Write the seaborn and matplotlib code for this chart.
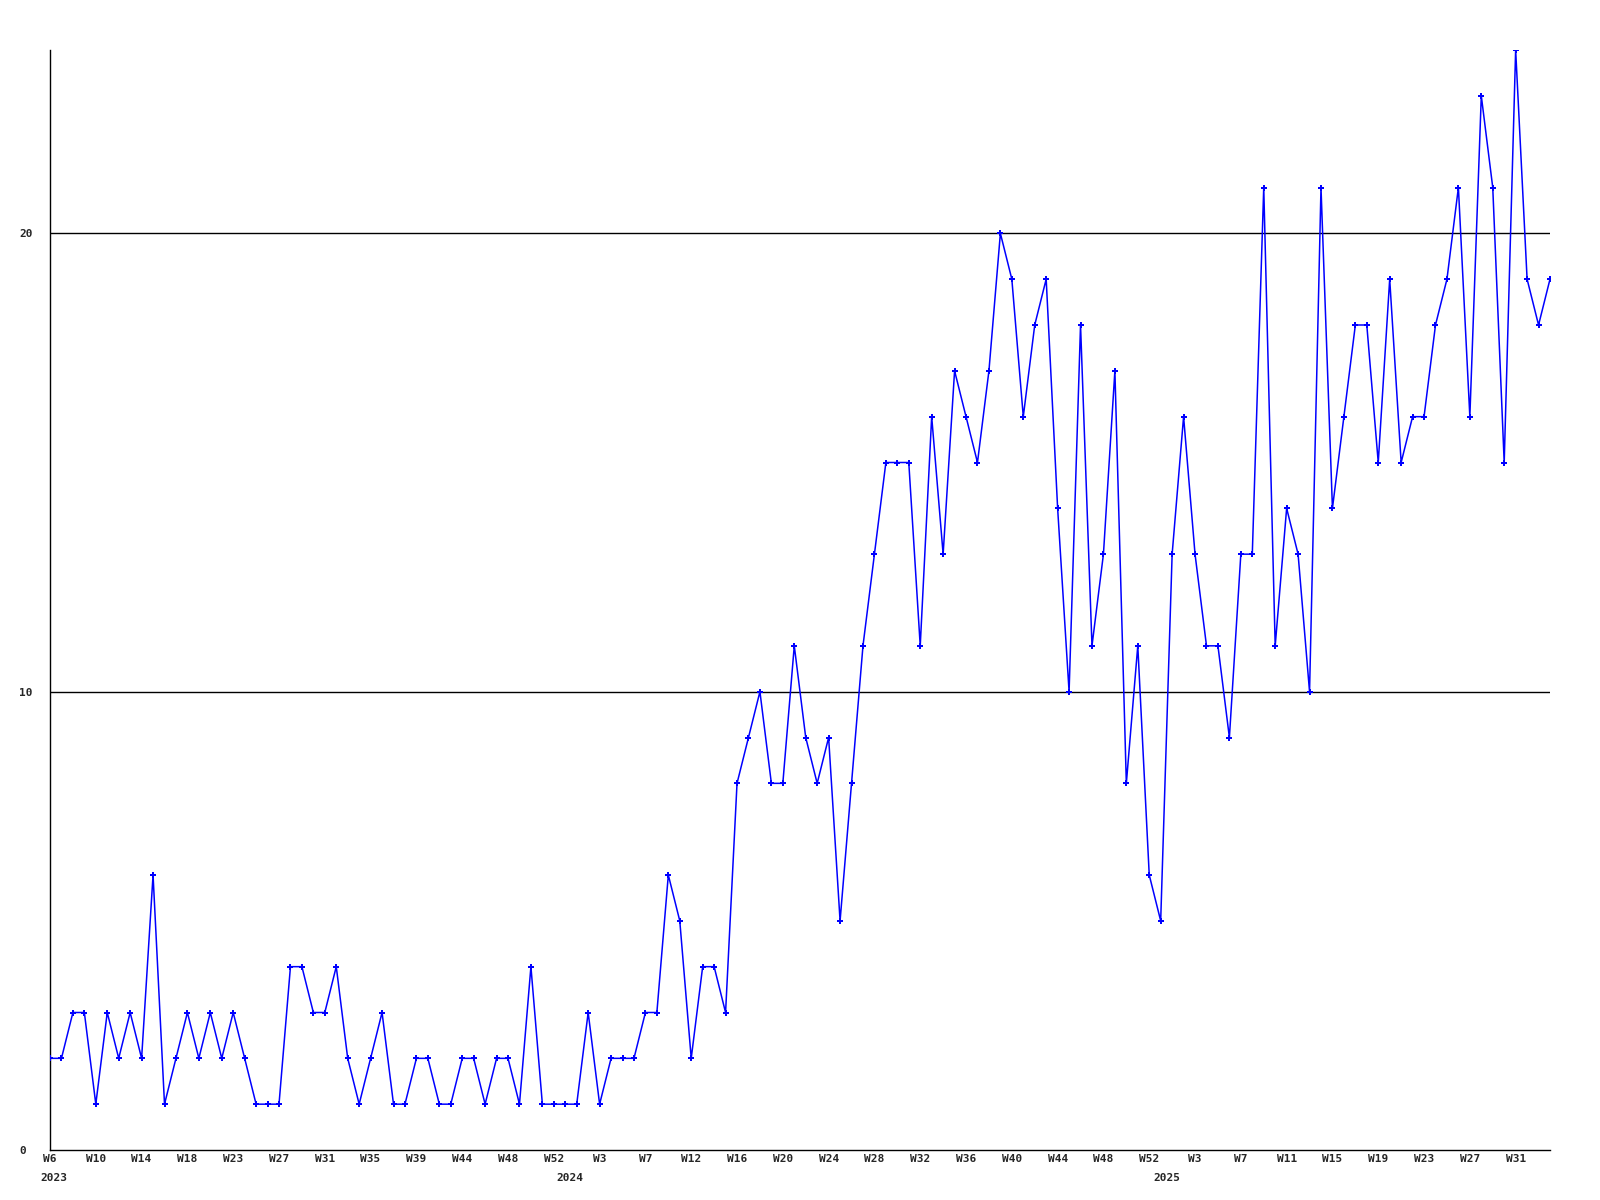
import matplotlib
matplotlib.use("Agg")
import matplotlib.pyplot as plt
import matplotlib.transforms as mtransforms
import seaborn as sns
import pandas as pd

# ---- data ----
values = [2, 2, 3, 3, 1, 3, 2, 3, 2, 6,
          1, 2, 3, 2, 3, 2, 3, 2, 1, 1,
          1, 4, 4, 3, 3, 4, 2, 1, 2, 3,
          1, 1, 2, 2, 1, 1, 2, 2, 1, 2,
          2, 1, 4, 1, 1, 1, 1, 3, 1, 2,
          2, 2, 3, 3, 6, 5, 2, 4, 4, 3,
          8, 9, 10, 8, 8, 11, 9, 8, 9, 5,
          8, 11, 13, 15, 15, 15, 11, 16, 13, 17,
          16, 15, 17, 20, 19, 16, 18, 19, 14, 10,
          18, 11, 13, 17, 8, 11, 6, 5, 13, 16,
          13, 11, 11, 9, 13, 13, 21, 11, 14, 13,
          10, 21, 14, 16, 18, 18, 15, 19, 15, 16,
          16, 18, 19, 21, 16, 23, 21, 15, 24, 19,
          18, 19]
week_labels = ["W6", "W10", "W14", "W18", "W23", "W27", "W31", "W35", "W39",
               "W44", "W48", "W52", "W3", "W7", "W12", "W16", "W20", "W24",
               "W28", "W32", "W36", "W40", "W44", "W48", "W52", "W3", "W7",
               "W11", "W15", "W19", "W23", "W27", "W31"]
year_labels = ["2023", "2024", "2025"]
year_anchor = [0.3, 45.4, 97.5]
y_ticks = [0, 10, 20]

df = pd.DataFrame({"idx": range(len(values)), "value": values})

sns.set_style("white")
plt.rcParams["font.family"] = ["DejaVu Sans Mono", "DejaVu Sans"]

fig = plt.figure(figsize=(16, 12), dpi=100)
ax = fig.add_axes([50 / 1600, 50 / 1200, 1500 / 1600, 1100 / 1200])

for yv in y_ticks[1:]:
    ax.axhline(yv, color="black", lw=1.0, zorder=1)

sns.lineplot(data=df, x="idx", y="value", ax=ax, color="#0000ff", lw=1.1,
             marker="P", markersize=4.5, markeredgewidth=0,
             markerfacecolor="#0000ff", zorder=3)

ax.set_xlim(0, len(values) - 1)
ax.set_ylim(0, 24)
ax.set_xlabel("")
ax.set_ylabel("")

tick_pos = list(range(0, 4 * len(week_labels), 4))
ax.set_xticks(tick_pos)
ax.set_xticklabels(week_labels, fontsize=8, fontweight="bold")
ax.set_yticks(y_ticks)
ax.set_yticklabels([str(v) for v in y_ticks], fontsize=8, fontweight="bold",
                   ha="left")
ax.tick_params(axis="x", length=0, pad=3)
ax.tick_params(axis="y", length=0, pad=22)

trans = mtransforms.blended_transform_factory(ax.transData, ax.transAxes)
for lab, pos in zip(year_labels, year_anchor):
    ax.text(pos, -0.0205, lab, transform=trans, ha="center", va="top",
            fontsize=8, fontweight="bold")

for s in ["top", "right"]:
    ax.spines[s].set_visible(False)
for s in ["left", "bottom"]:
    ax.spines[s].set_color("black")
    ax.spines[s].set_linewidth(1.0)

fig.savefig("out.png", dpi=100)
